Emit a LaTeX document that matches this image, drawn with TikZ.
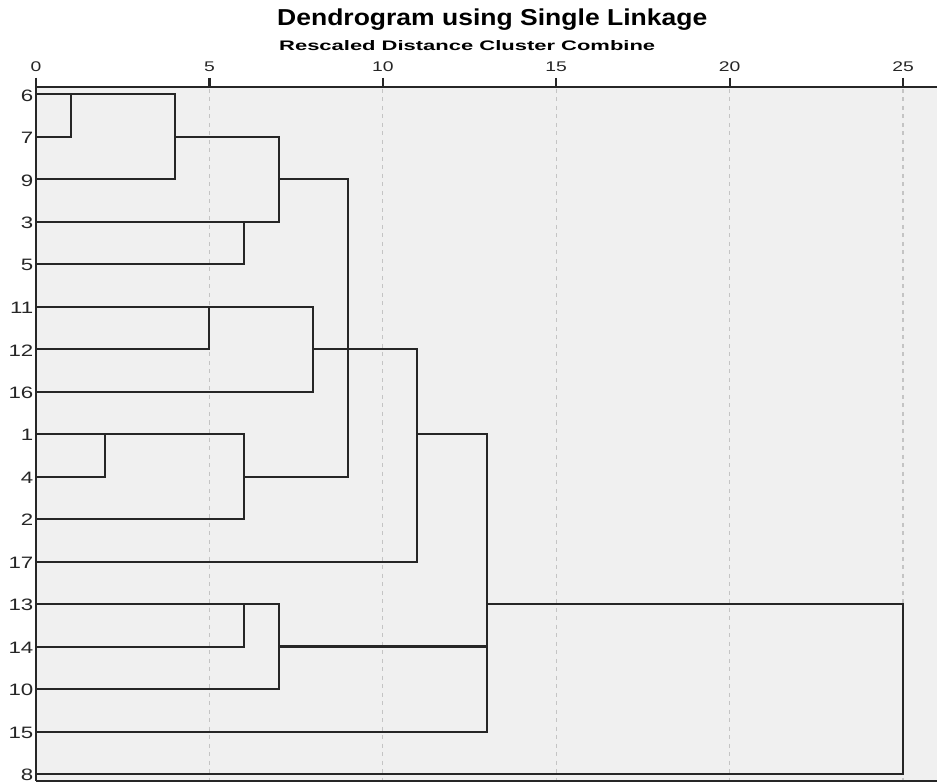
\documentclass[tikz,border=0pt]{standalone}
\usepackage{fontspec}
\setmainfont{Liberation Sans}
\usepackage{graphicx}
\definecolor{bgc}{HTML}{F0F0F0}
\definecolor{gridc}{HTML}{C4C4C4}
\definecolor{lnc}{HTML}{262626}
\tikzset{
  dline/.style={draw=lnc, line width=2pt, line join=miter},
  axisline/.style={draw=lnc, line width=2.2pt},
  gridline/.style={draw=gridc, line width=1.2pt, dash pattern=on 4pt off 4.5pt},
  rowlab/.style={anchor=east, inner sep=0pt, font=\fontsize{16.5}{16.5}\selectfont, text=lnc},
  ticklab/.style={anchor=base, inner sep=0pt, font=\fontsize{14}{14}\selectfont, text=lnc}
}
\newcommand{\sxr}[1]{\scalebox{1.35}[1]{#1}}
\newcommand{\sxt}[1]{\scalebox{1.38}[1]{#1}}
\begin{document}
\begin{tikzpicture}[x=1pt,y=-1pt]
  \useasboundingbox (0,0) rectangle (937,783);
  \fill[white] (0,0) rectangle (937,783);
  % plot background
  \fill[bgc] (36,87) rectangle (937,781);
  % titles
  \node[anchor=base west, inner sep=0pt] (title) at (277,26)
    {\resizebox{430pt}{16.7pt}{\bfseries Dendrogram using Single Linkage}};
  \node[anchor=base west, inner sep=0pt] (subtitle) at (279,50.7)
    {\resizebox{376pt}{10pt}{\bfseries Rescaled Distance Cluster Combine}};
  % grid, ticks and tick labels
  \foreach \u in {5,10,15,20,25} {
    \draw[gridline] ({36+34.68*\u},89) -- ({36+34.68*\u},780);
  }
  \foreach \u in {0,5,10,15,20,25} {
    \draw[axisline] ({36+34.68*\u},78) -- ({36+34.68*\u},87);
    \node[ticklab] (t\u) at ({36+34.68*\u},72) {\sxt{\u}};
  }
  % axes frame
  \draw[axisline] (36,87) -- (937,87);
  \draw[axisline] (36,78) -- (36,781);
  \draw[axisline] (36,781) -- (937,781);
  % row labels
  \foreach \lab [count=\i from 0] in {6,7,9,3,5,11,12,16,1,4,2,17,13,14,10,15,8} {
    \node[rowlab] (l\lab) at (33.5,{95.5+42.47*\i}) {\sxr{\lab}};
  }
  % dendrogram (units: distance, row index)
  \begin{scope}[x=34.68pt, y=-42.47pt, shift={(36pt,-94.5pt)}]
    % cluster 6,7,9,3,5
    \draw[dline] (0,1) -| (1,0);
    \draw[dline] (0,0) -| (4,2) -- (0,2);
    \draw[dline] (4,1) -| (7,3) -- (0,3);
    \draw[dline] (0,4) -| (6,3);
    \draw[dline] (7,2) -| (9,9) -- (6,9);
    % cluster 11,12,16
    \draw[dline] (0,5) -| (8,7) -- (0,7);
    \draw[dline] (0,6) -| (5,5);
    \draw[dline] (8,6) -| (11,11) -- (0,11);
    % cluster 1,4,2
    \draw[dline] (0,8) -| (6,10) -- (0,10);
    \draw[dline] (0,9) -| (2,8);
    % join to 13
    \draw[dline] (11,8) -| (13,15) -- (0,15);
    % cluster 13,14,10
    \draw[dline] (0,12) -| (7,14) -- (0,14);
    \draw[dline] (0,13) -| (6,12);
    \draw[dline, line width=2.5pt] (7,13) -- (13,13);
    % final join
    \draw[dline] (13,12) -| (25,16) -- (0,16);
  \end{scope}
\end{tikzpicture}
\end{document}
